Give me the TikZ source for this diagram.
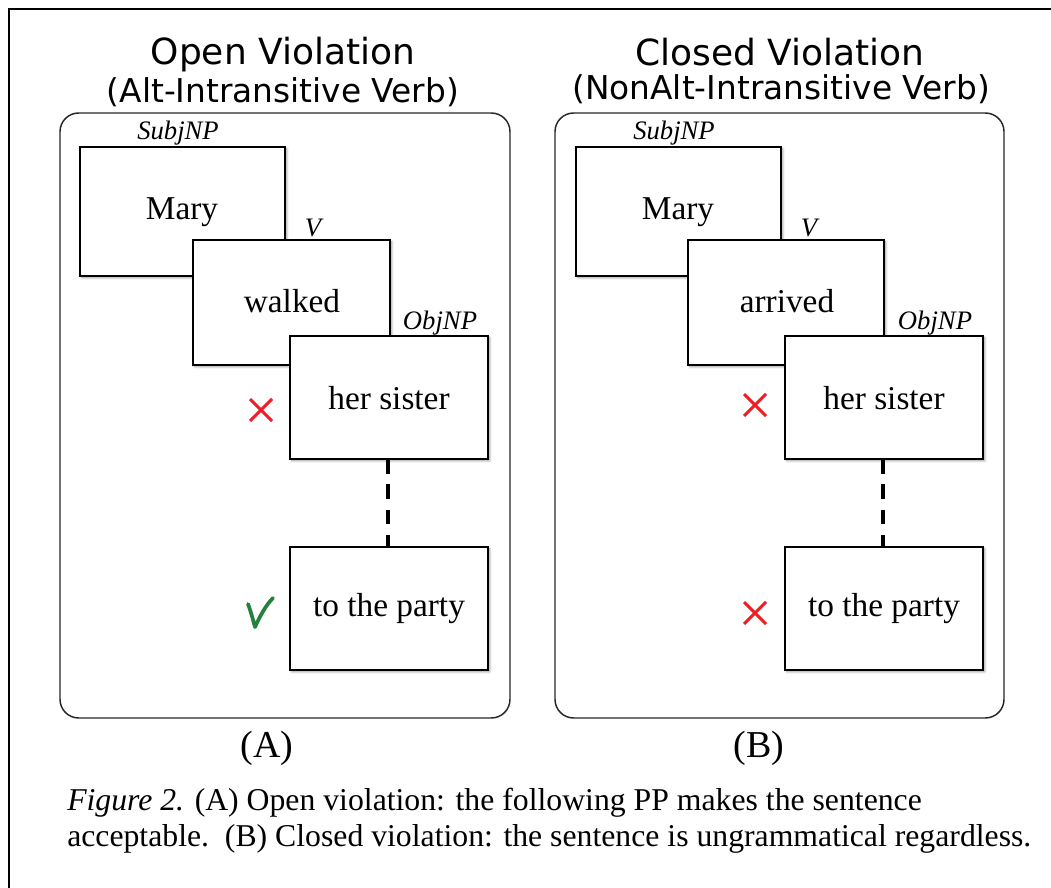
\documentclass[tikz,border=0pt]{standalone}
\usepackage{fontspec}
\setmainfont{Liberation Serif}
\newfontfamily\headfont{DejaVu Sans}
\usetikzlibrary{shadows.blur,calc}
\definecolor{crossred}{RGB}{238,30,36}
\definecolor{tickgreen}{RGB}{38,128,62}
\tikzset{
  panel/.style={draw=black!85, line width=1.1pt, rounded corners=14pt},
  wordbox/.style={draw=black, line width=1.5pt, fill=white,
    blur shadow={shadow xshift=1.3pt, shadow yshift=-1.3pt, shadow blur steps=4, shadow opacity=40}},
  word/.style={font=\fontsize{25}{28}\selectfont},
  role/.style={font=\fontsize{20}{22}\selectfont\itshape},
  title/.style={font=\headfont\fontsize{27}{30}\selectfont},
  subtitle/.style={font=\headfont\fontsize{24.6}{28}\selectfont},
  crossmark/.style={draw=crossred, line width=2.2pt},
  tick/.style={draw=tickgreen, line width=2.8pt, line cap=round, line join=round},
  link/.style={line width=2.6pt, dash pattern=on 11pt off 8pt}
}
\begin{document}
\begin{tikzpicture}[x=0.75pt,y=-0.75pt]
\useasboundingbox (0,0) rectangle (1051,888);
% outer frame (top and left edges)
\draw[line width=2.2pt] (9,888) -- (9,9) -- (1051,9);

% ---------- panel A ----------
\node[title] (tA) at (283,55) {Open Violation};
\node[subtitle] (sA) at (283,92) {(Alt-Intransitive Verb)};
\draw[panel] (60,113) rectangle (510,718);

\draw[wordbox] (80,147) rectangle (285,276);
\node[word] (maryA) at (182,212) {Mary};
\node[role] (subjA) at (178,133) {SubjNP};
\draw[wordbox] (193,240) rectangle (390,365);
\node[word] (verbA) at (292,301) {walked};
\node[role] (vA) at (313,228) {V};
\draw[wordbox] (290,336) rectangle (488,459);
\node[word] (objA) at (389,398) {her sister};
\node[role] (objlA) at (440,323) {ObjNP};
\draw[wordbox] (290,547) rectangle (488,670);
\node[word] (ppA) at (389,609) {to the party};
\coordinate (objA-bot) at (388,459);
\coordinate (ppA-top) at (388,547);
\draw[link] (objA-bot) -- (ppA-top);

\coordinate (xA) at (261,410);
\draw[crossmark] ($(xA)+(-11,-11)$) -- ($(xA)+(11,11)$) ($(xA)+(-11,11)$) -- ($(xA)+(11,-11)$);
\draw[tick] (248,604) .. controls (251,612) and (253,620) .. (255,627) .. controls (260,616) and (266,605) .. (273,598);

\node[font=\fontsize{28.5}{32}\selectfont] (labA) at (267,748) {(A)};

% ---------- panel B ----------
\node[title] (tB) at (780,52) {Closed Violation};
\node[subtitle] (sB) at (781,89) {(NonAlt-Intransitive Verb)};
\draw[panel] (555,113) rectangle (1004,718);

\draw[wordbox] (576,147) rectangle (781,276);
\node[word] (maryB) at (678,212) {Mary};
\node[role] (subjB) at (674,133) {SubjNP};
\draw[wordbox] (688,240) rectangle (884,365);
\node[word] (verbB) at (787,301) {arrived};
\node[role] (vB) at (809,228) {V};
\draw[wordbox] (785,336) rectangle (983,459);
\node[word] (objB) at (884,398) {her sister};
\node[role] (objlB) at (935,323) {ObjNP};
\draw[wordbox] (785,547) rectangle (983,670);
\node[word] (ppB) at (884,609) {to the party};
\coordinate (objB-bot) at (883,459);
\coordinate (ppB-top) at (883,547);
\draw[link] (objB-bot) -- (ppB-top);

\coordinate (xB1) at (755,405);
\draw[crossmark] ($(xB1)+(-11,-11)$) -- ($(xB1)+(11,11)$) ($(xB1)+(-11,11)$) -- ($(xB1)+(11,-11)$);
\coordinate (xB2) at (755,613);
\draw[crossmark] ($(xB2)+(-11,-11)$) -- ($(xB2)+(11,11)$) ($(xB2)+(-11,11)$) -- ($(xB2)+(11,-11)$);

\node[font=\fontsize{28.5}{32}\selectfont] (labB) at (759,748) {(B)};

% ---------- caption ----------
\node[anchor=base west, font=\fontsize{23.8}{28}\selectfont, inner sep=0pt] (cap1) at (67,810)
  {\textit{Figure 2.} (A) Open violation: the following PP makes the sentence};
\node[anchor=base west, font=\fontsize{23.8}{28}\selectfont, inner sep=0pt] (cap2) at (67,846)
  {acceptable.\ \ (B) Closed violation: the sentence is ungrammatical regardless.};
\end{tikzpicture}
\end{document}
